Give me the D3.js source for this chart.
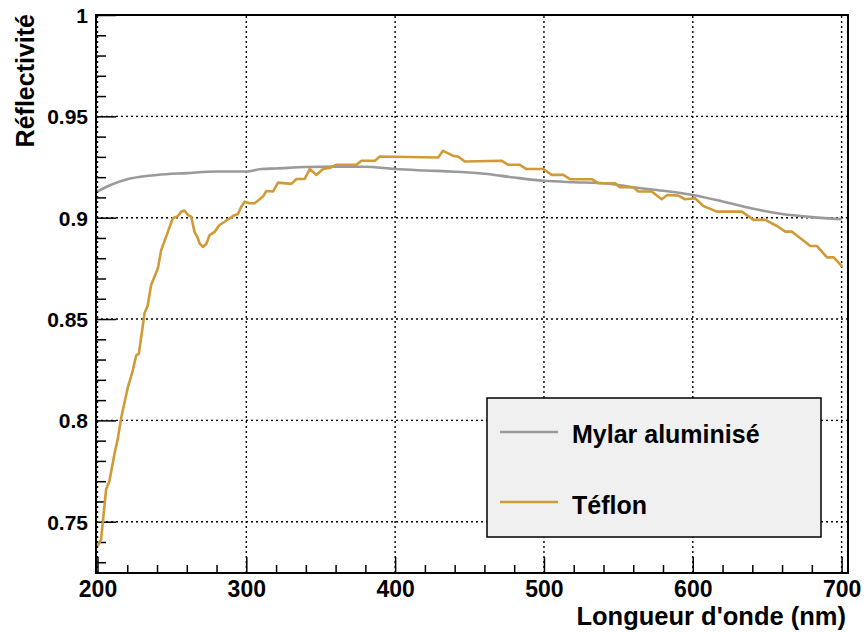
<!DOCTYPE html>
<html>
<head>
<meta charset="utf-8">
<script src="https://cdn.jsdelivr.net/npm/d3@7"></script>
<style>
  html, body { margin: 0; padding: 0; background: #fff; }
  svg text { font-family: "Liberation Sans", Arial, Helvetica, sans-serif; font-weight: bold; fill: #000; }
</style>
</head>
<body>
<svg id="chart" width="864" height="632"></svg>
<script>
// ---- data ----
const xMajorTicks = [200, 300, 400, 500, 600, 700];
const xMinorTicks = [220, 240, 260, 280, 320, 340, 360, 380, 420, 440, 460, 480, 520, 540, 560, 580, 620, 640, 660, 680];
const yMajorTicks = [0.75, 0.8, 0.85, 0.9, 0.95, 1];
const yMinorTicks = [0.73, 0.74, 0.76, 0.77, 0.78, 0.79, 0.81, 0.82, 0.83, 0.84, 0.86, 0.87, 0.88, 0.89, 0.91, 0.92, 0.93, 0.94, 0.96, 0.97, 0.98, 0.99];
const xTitle = "Longueur d'onde (nm)";
const yTitle = "Réflectivité";
const seriesNames = ["Mylar aluminisé", "Téflon"];

const mylarWavelength = [200, 210, 220, 230, 240, 260, 280, 300, 310, 320, 340, 360, 380, 400, 420, 440, 460, 480, 500, 520, 540, 560, 580, 600, 620, 640, 660, 680, 700];
const mylarReflectivity = [0.913, 0.9165, 0.919, 0.9203, 0.9211, 0.922, 0.9228, 0.9228, 0.924, 0.9243, 0.925, 0.9252, 0.9251, 0.924, 0.9233, 0.9227, 0.9217, 0.9198, 0.9182, 0.9175, 0.917, 0.915, 0.9133, 0.9112, 0.908, 0.9045, 0.9018, 0.9003, 0.8993];

const teflonWavelength = [200.0, 202.4, 205.8, 208, 211.4, 213.6, 216, 220.4, 223.7, 226, 227.8, 231.6, 233.8, 236, 240.6, 242.8, 247.3, 250.6, 254, 256.3, 258.5, 260.7, 263, 265.2, 267.5, 268.6, 270.8, 273.1, 275.3, 278.7, 282, 285.4, 288.8, 291, 294.4, 296.6, 298.9, 302.2, 305.6, 311.2, 313.5, 317.9, 321.3, 330.3, 333.7, 339.2, 342.6, 347.1, 351.5, 356, 360.5, 374, 377.4, 386.4, 389.7, 428.9, 432.2, 439, 442.3, 446.8, 471.5, 476, 483.8, 488.3, 499.5, 505.2, 513, 517.5, 532, 536.5, 547.8, 551.1, 560.1, 563.4, 572.4, 579.1, 582.9, 590.3, 594.8, 601.5, 607.1, 616.1, 633, 640.8, 648.7, 656.6, 662.2, 666.7, 679, 683.5, 690.2, 694.7, 700.4];
const teflonReflectivity = [0.738, 0.7413, 0.766, 0.770, 0.7834, 0.7908, 0.8015, 0.8163, 0.8246, 0.832, 0.8329, 0.8527, 0.8568, 0.8667, 0.875, 0.884, 0.893, 0.8997, 0.9008, 0.903, 0.9035, 0.9013, 0.9005, 0.893, 0.8898, 0.8873, 0.8856, 0.887, 0.8914, 0.893, 0.8964, 0.898, 0.8997, 0.9008, 0.9018, 0.9054, 0.9079, 0.9071, 0.9071, 0.9104, 0.9132, 0.9129, 0.9173, 0.9167, 0.9191, 0.9191, 0.924, 0.9211, 0.924, 0.9245, 0.9261, 0.9261, 0.9281, 0.9281, 0.9302, 0.9297, 0.933, 0.9305, 0.9302, 0.9277, 0.9281, 0.9261, 0.9261, 0.924, 0.924, 0.9211, 0.9211, 0.919, 0.919, 0.917, 0.917, 0.915, 0.915, 0.9129, 0.9129, 0.9091, 0.9112, 0.9109, 0.9091, 0.9096, 0.9058, 0.903, 0.903, 0.8989, 0.8989, 0.8959, 0.8931, 0.8931, 0.886, 0.886, 0.8804, 0.8804, 0.8758];

// ---- layout ----
const L = 96, R = 848, T = 15, B = 573;
const colors = ["#9a9a9a", "#d09a36"];

const svg = d3.select("#chart");
svg.append("rect").attr("width", 864).attr("height", 632).attr("fill", "#fff");

const x = d3.scaleLinear().domain([199, 704.3]).range([L, R]);
const y = d3.scaleLinear().domain([0.7247, 1]).range([B, T]);

// grid
const grid = svg.append("g").attr("stroke", "#000").attr("stroke-width", 1.4).attr("stroke-dasharray", "2,3");
grid.selectAll(".gx").data(xMajorTicks).join("line")
  .attr("x1", d => x(d)).attr("x2", d => x(d)).attr("y1", B).attr("y2", T);
grid.selectAll(".gy").data(yMajorTicks).join("line")
  .attr("y1", d => y(d)).attr("y2", d => y(d)).attr("x1", L).attr("x2", R);

// axes: major
const xAxis = d3.axisBottom(x).tickValues(xMajorTicks).tickSize(-16).tickPadding(0).tickFormat(d3.format("d"));
const gx = svg.append("g").attr("transform", `translate(0,${B})`).call(xAxis);
gx.select(".domain").remove();
gx.selectAll("line").attr("stroke", "#000").attr("stroke-width", 1.5);
gx.selectAll("text").attr("y", 24).attr("dy", null).attr("font-size", 23).attr("fill", "#000");

const xAxisMinor = d3.axisBottom(x).tickValues(xMinorTicks).tickSize(-8).tickFormat("");
const gxm = svg.append("g").attr("transform", `translate(0,${B})`).call(xAxisMinor);
gxm.select(".domain").remove();
gxm.selectAll("line").attr("stroke", "#000").attr("stroke-width", 1.5);

const yAxis = d3.axisLeft(y).tickValues(yMajorTicks).tickSize(-20).tickPadding(8).tickFormat(d => String(+d.toFixed(2)));
const gy = svg.append("g").attr("transform", `translate(${L},0)`).call(yAxis);
gy.select(".domain").remove();
gy.selectAll("line").attr("stroke", "#000").attr("stroke-width", 1.5);
gy.selectAll("text").attr("font-size", 21).attr("dy", "0.36em").attr("fill", "#000");

const yAxisMinor = d3.axisLeft(y).tickValues(yMinorTicks).tickSize(-10).tickFormat("");
const gym = svg.append("g").attr("transform", `translate(${L},0)`).call(yAxisMinor);
gym.select(".domain").remove();
gym.selectAll("line").attr("stroke", "#000").attr("stroke-width", 1.5);

svg.selectAll(".tick text").attr("font-family", null);

// series
const line = d3.line().x(d => x(d[0])).y(d => y(d[1]));
const mylar = d3.zip(mylarWavelength, mylarReflectivity);
const teflon = d3.zip(teflonWavelength, teflonReflectivity);
const plot = svg.append("g");
plot.append("path").datum(mylar).attr("d", d3.line().curve(d3.curveMonotoneX).x(d => x(d[0])).y(d => y(d[1])))
  .attr("fill", "none").attr("stroke", colors[0]).attr("stroke-width", 2.6);
plot.append("path").datum(teflon).attr("d", line)
  .attr("fill", "none").attr("stroke", colors[1]).attr("stroke-width", 2.6).attr("stroke-linejoin", "round");

// frame
svg.append("rect").attr("x", L).attr("y", T).attr("width", R - L).attr("height", B - T)
  .attr("fill", "none").attr("stroke", "#000").attr("stroke-width", 2);

// titles
svg.append("text").attr("x", 846).attr("y", 625).attr("text-anchor", "end").attr("font-size", 25.5).text(xTitle);
svg.append("text").attr("transform", "translate(34,14) rotate(-90)").attr("text-anchor", "end").attr("font-size", 25).text(yTitle);

// legend
const lg = svg.append("g");
lg.append("rect").attr("x", 487).attr("y", 398).attr("width", 334).attr("height", 139)
  .attr("fill", "#f0f0f0").attr("stroke", "#000").attr("stroke-width", 1.5);
const legendY = [432, 502];
const legendBase = [443, 514];
seriesNames.forEach((name, i) => {
  lg.append("line").attr("x1", 500).attr("x2", 558).attr("y1", legendY[i]).attr("y2", legendY[i])
    .attr("stroke", colors[i]).attr("stroke-width", 2.6);
  lg.append("text").attr("x", 572).attr("y", legendBase[i]).attr("font-size", 25).text(name);
});
</script>
</body>
</html>
